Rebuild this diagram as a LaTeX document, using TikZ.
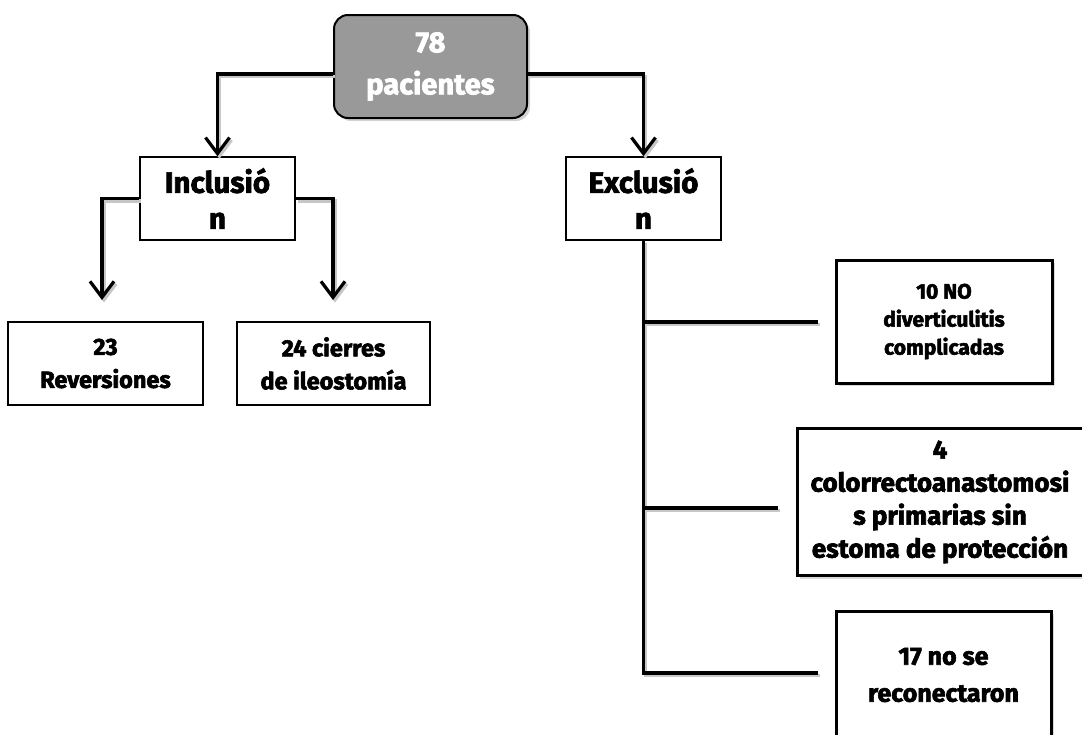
\documentclass[tikz,border=0pt]{standalone}
\usepackage{fontspec}
\setmainfont{Fira Sans}[BoldFeatures={FakeBold=2.5}]
\usetikzlibrary{shadows}
\usetikzlibrary{arrows.meta}
\usetikzlibrary{calc}
\tikzstyle{topbox}=[draw=black, line width=2pt, fill=black!40, rounded corners=14pt, drop shadow={opacity=0.35, shadow xshift=3pt, shadow yshift=-3pt}, text=white, align=center, inner sep=0pt, minimum width=193pt, minimum height=103pt, font=\fontsize{29}{42}\selectfont\bfseries]
\tikzstyle{groupbox}=[draw=black, line width=1.6pt, fill=white, align=center, inner sep=0pt, minimum width=155pt, minimum height=83pt, font=\fontsize{29.5}{36}\selectfont\bfseries]
\tikzstyle{leafbox}=[draw=black, line width=1.8pt, fill=white, align=center, inner sep=0pt, minimum height=83pt, font=\fontsize{23.5}{33}\selectfont\bfseries]
\tikzstyle{outbox}=[draw=black, line width=3pt, fill=white, align=center, inner sep=0pt, drop shadow={opacity=0.3, shadow xshift=3pt, shadow yshift=-3pt}]
\tikzstyle{link}=[line width=3.2pt, preaction={draw, line width=3.2pt, black!22, transform canvas={shift={(2pt,-2.5pt)}}}]
\tikzstyle{barb}=[-{Straight Barb[length=16pt,width=24pt]}]

\begin{document}
\begin{tikzpicture}[x=1pt, y=-1pt]
\useasboundingbox (0,0) rectangle (1082,734);

%top
\node[topbox] (total) at (430.5,66.5) {78\\pacientes};

%Inclusion / Exclusion
\node[groupbox] (incl) at (217.5,198.5) {Inclusió\\n};
\node[groupbox] (excl) at (643.5,198.5) {Exclusió\\n};

%included
\node[leafbox, minimum width=195pt] (rev) at (105.5,363.5) {23\\Reversiones};
\node[leafbox, minimum width=193pt] (ileo) at (333.5,363.5) {24 cierres\\de ileostomía};

%excluded
\node[outbox, minimum width=216pt, minimum height=123pt, font=\fontsize{21}{28}\selectfont\bfseries] (nodiv) at (944,321.5) {10 NO\\diverticulitis\\complicadas};
\node[outbox, minimum width=286pt, minimum height=147pt, font=\fontsize{26}{33}\selectfont\bfseries] (prim) at (940,502) {4\\colorrectoanastomosi\\s primarias sin\\estoma de protección};
\node[outbox, minimum width=215pt, minimum height=128pt, font=\fontsize{25}{37}\selectfont\bfseries] (norec) at (943.5,675) {17 no se\\reconectaron};

%free ends
\coordinate (tipA) at (102,300);
\coordinate (tipB) at (333,300);
\coordinate (e1) at (818,322);
\coordinate (e2) at (778,508);
\coordinate (e3) at (818,673);

\draw[link, barb] ([yshift=-7.5pt]total.west) -| (incl.north);
\draw[link, barb] ([yshift=-7.5pt]total.east) -| (excl.north);
\foreach \source/\dest in {incl.west/tipA, incl.east/tipB}
    \draw[link, barb] (\source) -| (\dest);

\draw[link] (excl.south) |- (e3);
\foreach \c in {e1, e2}
    \draw[link] (\c -| excl.south) -- (\c);

\end{tikzpicture}
\end{document}
